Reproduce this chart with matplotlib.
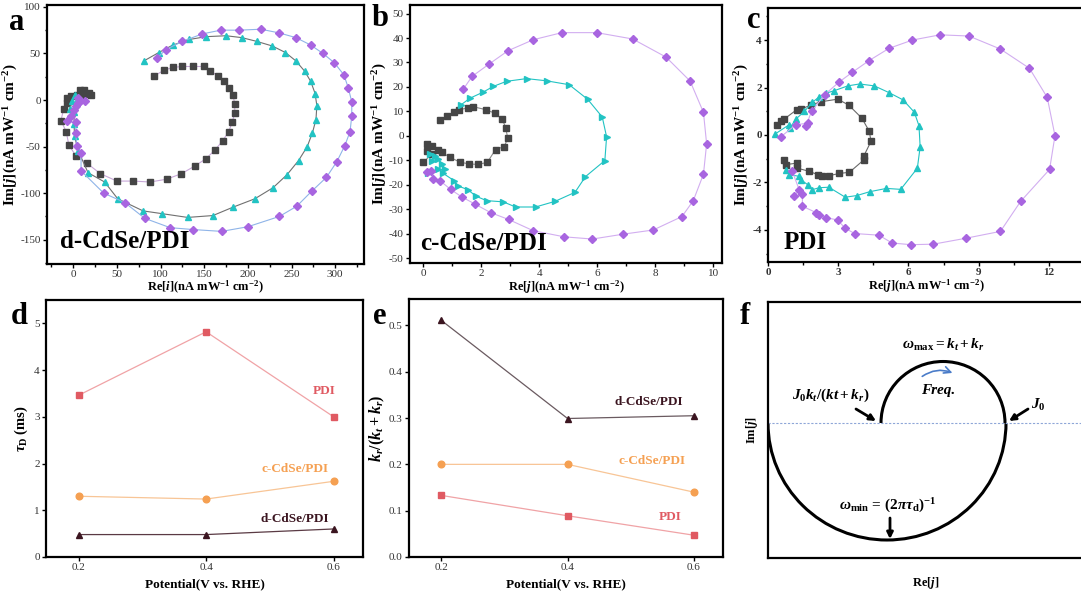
import numpy as np
import matplotlib
matplotlib.use('Agg')
import matplotlib.pyplot as plt
from matplotlib.ticker import MultipleLocator
from matplotlib.patches import Arc, FancyArrowPatch

plt.rcParams['font.family'] = 'Liberation Serif'
plt.rcParams['mathtext.fontset'] = 'custom'
plt.rcParams['mathtext.rm'] = 'Liberation Serif:bold'
plt.rcParams['mathtext.it'] = 'Liberation Serif:italic:bold'
plt.rcParams['mathtext.bf'] = 'Liberation Serif:bold'
plt.rcParams['axes.unicode_minus'] = False

# ---------------- data: panel a (d-CdSe/PDI IMPS) ----------------
a_sq_x = [93, 104, 114, 125, 137, 150, 157, 166, 173, 178, 183, 185, 185, 182, 178, 171, 162, 152,
          139, 124, 107, 88, 69, 50, 31, 16, 3, -5, -8, -14, -11, -7, -7, -2, 4, 8, 12, 18, 20, 14, 10]
a_sq_y = [26, 32, 35, 36, 36, 36, 31, 26, 20, 13, 5, -4, -14, -24, -34, -44, -54, -63,
          -71, -79, -85, -88, -87, -87, -79, -68, -60, -48, -34, -22, -10, -3, 2, 4, 5, 11, 11, 8, 5, 7, 4]
a_tr_x = [81, 98, 114, 133, 152, 175, 193, 210, 228, 243, 255, 265, 272, 277, 279, 278, 274, 268, 258,
          245, 229, 208, 183, 160, 131, 102, 80, 51, 36, 17, 6, 1.5, 1, 1, -4, -1, 1.5, 5, 3]
a_tr_y = [42, 51, 59, 65, 68, 69, 67, 63, 58, 51, 42, 31, 20, 7, -6, -21, -35, -50, -65,
          -80, -94, -106, -115, -124, -126, -122, -119, -106, -88, -78, -55, -39, -26, -13, -10, -1, 5, 2, -4]
a_di_x = [96, 106, 125, 148, 169, 190, 215, 236, 255, 272, 286, 299, 310, 315, 319, 319, 317, 311, 302,
          290, 273, 256, 236, 200, 170, 137, 111, 82, 59, 35, 9, 9, 4, 3, 3, -7, -3, 1, 3, 6, 14, 8, 5]
a_di_y = [45, 54, 63, 71, 75, 75, 76, 72, 67, 59, 50, 40, 27, 13, -2, -17, -34, -49, -66,
          -83, -98, -114, -125, -136, -141, -139, -137, -127, -110, -100, -76, -57, -49, -35, -24, -23, -17, -11, -6, -3, -1, -1, 2]

# ---------------- data: panel b (c-CdSe/PDI IMPS) ----------------
b_sq_x = [0.57, 0.83, 1.05, 1.23, 1.55, 1.72, 2.16, 2.47, 2.72, 2.84, 2.91, 2.79, 2.49, 2.21, 1.90,
          1.59, 1.27, 0.92, 0.63, 0.49, 0.29, 0.12, 0.12, 0.29, 0.0]
b_sq_y = [6.6, 8.2, 9.7, 10.7, 11.4, 11.9, 10.7, 9.2, 6.8, 3.4, -1.0, -4.4, -5.6, -10.8, -11.7,
          -11.5, -10.8, -8.8, -6.7, -5.6, -4.0, -3.3, -6.0, -7.5, -10.8]
b_tr_x = [1.30, 1.61, 2.05, 2.41, 2.87, 3.56, 4.25, 5.03, 5.67, 6.17, 6.32, 6.26, 5.59, 5.23, 4.54,
          3.87, 3.18, 2.76, 2.18, 1.82, 1.53, 1.18, 1.07, 0.69, 0.49, 0.17, 0.75, 0.63, 0.52, 0.29, 0.40, 0.23]
b_tr_y = [12.7, 15.4, 17.8, 20.2, 22.3, 23.4, 22.5, 20.9, 14.9, 7.7, -0.4, -10.1, -16.7, -23.1, -26.8,
          -29.1, -29.1, -27.0, -26.5, -24.7, -22.0, -20.4, -18.4, -15.4, -13.5, -15.4, -13.5, -11.5, -9.4, -10.1, -8.1, -7.4]
b_di_x = [1.38, 1.68, 2.25, 2.92, 3.79, 4.78, 5.98, 7.22, 8.37, 9.20, 9.66, 9.77, 9.66, 9.31, 8.92,
          7.93, 6.90, 5.83, 4.86, 3.79, 2.94, 2.32, 1.78, 1.33, 0.94, 0.57, 0.34, 0.26, 0.12]
b_di_y = [19.1, 24.3, 29.2, 34.8, 39.3, 42.2, 42.2, 39.6, 32.2, 22.4, 9.6, -3.3, -15.7, -26.5, -33.0,
          -38.5, -40.2, -42.2, -41.3, -38.8, -34.2, -31.4, -27.9, -25.0, -21.9, -18.3, -17.6, -14.2, -14.9]

# ---------------- data: panel c (PDI IMPS) ----------------
c_sq_x = [0.40, 0.55, 0.69, 1.22, 1.43, 1.83, 2.26, 2.98, 3.45, 4.01, 4.33, 4.40, 4.10, 4.08, 3.48,
          3.05, 2.62, 2.31, 2.12, 1.76, 1.26, 1.26, 0.76, 0.69]
c_sq_y = [0.43, 0.60, 0.67, 1.06, 1.10, 1.26, 1.40, 1.51, 1.26, 0.71, 0.15, -0.27, -0.87, -1.06, -1.57,
          -1.62, -1.71, -1.73, -1.67, -1.53, -1.40, -1.18, -1.25, -1.04]
c_tr_x = [0.30, 0.90, 0.93, 1.19, 1.55, 1.90, 2.19, 2.48, 2.84, 3.41, 3.91, 4.54, 5.16, 5.77, 6.25,
          6.45, 6.50, 6.38, 5.67, 5.06, 4.34, 3.80, 3.30, 2.60, 2.19, 1.90, 1.69, 1.40, 1.33, 0.90, 0.76]
c_tr_y = [0.04, 0.43, 0.29, 0.67, 0.99, 1.38, 1.61, 1.76, 1.87, 2.07, 2.15, 2.07, 1.79, 1.48, 0.96,
          0.39, -0.50, -1.40, -2.29, -2.25, -2.39, -2.55, -2.62, -2.20, -2.22, -2.30, -2.09, -1.88, -1.74, -1.67, -1.46]
c_di_x = [0.54, 1.19, 1.69, 1.62, 1.86, 2.42, 3.05, 3.60, 4.31, 5.17, 6.17, 7.35, 8.58, 9.93, 11.17,
          11.93, 12.26, 12.03, 10.79, 9.93, 8.45, 7.06, 6.10, 5.30, 4.74, 3.70, 3.30, 2.97, 2.48, 2.16,
          2.06, 1.47, 1.47, 1.12, 1.33, 1.04]
c_di_y = [-0.08, 0.43, 0.50, 0.38, 0.99, 1.70, 2.24, 2.64, 3.13, 3.65, 4.00, 4.22, 4.17, 3.62, 2.81,
          1.58, -0.03, -1.45, -2.80, -4.06, -4.35, -4.60, -4.62, -4.55, -4.22, -4.15, -3.93, -3.58, -3.48, -3.37,
          -3.27, -3.00, -2.50, -2.58, -2.30, -1.53]

# ---------------- data: panels d, e ----------------
potential = [0.2, 0.4, 0.6]
tau_pdi = [3.46, 4.82, 3.00]
tau_c = [1.30, 1.24, 1.62]
tau_d = [0.48, 0.48, 0.60]
ratio_d = [0.511, 0.299, 0.305]
ratio_c = [0.200, 0.200, 0.140]
ratio_pdi = [0.133, 0.089, 0.047]

W, H = 1081, 598
fig = plt.figure(figsize=(W / 100, H / 100), dpi=100)


def box(l, t, r, b):
    return [l / W, 1 - b / H, (r - l) / W, (b - t) / H]


def style(ax, bold_ticks=False):
    for s in ax.spines.values():
        s.set_linewidth(1.6)
    ax.tick_params(which='both', direction='out', top=False, right=False, width=1.0,
                   labelsize=8, pad=1.5, labelcolor='#333333')
    ax.tick_params(which='major', length=3)
    ax.tick_params(which='minor', length=1.8)
    if bold_ticks:
        for lab in ax.get_xticklabels() + ax.get_yticklabels():
            lab.set_fontweight('bold')


def nyq(ax, x, y, marker, mc, lc, ms=4.5):
    ax.plot(x, y, '-', color=lc, lw=0.8, marker=marker, ms=ms, mfc=mc, mec=mc, zorder=3)


BLK, CYN, PUR = '#454545', '#22c3c3', '#a865e0'
ylab = r'Im[$j$](nA mW$^{-1}$ cm$^{-2}$)'
xlab = r'Re[$j$](nA mW$^{-1}$ cm$^{-2}$)'
LFS = 9
YFS = 11

# panel a
ax = fig.add_axes(box(47, 5, 364, 264))
nyq(ax, a_sq_x, a_sq_y, 's', BLK, '#c8a8d8')
nyq(ax, a_tr_x, a_tr_y, '^', CYN, '#707070')
nyq(ax, a_di_x, a_di_y, 'D', PUR, '#8fb4e8', ms=4.2)
ax.set_xlim(-30, 333)
ax.set_ylim(-176, 102)
ax.xaxis.set_major_locator(MultipleLocator(50))
ax.xaxis.set_minor_locator(MultipleLocator(25))
ax.yaxis.set_major_locator(MultipleLocator(50))
ax.yaxis.set_minor_locator(MultipleLocator(25))
ax.set_xlabel(xlab.replace('$j$', '$i$'), fontsize=LFS, fontweight='bold', labelpad=0)
ax.set_ylabel(ylab, fontsize=YFS, fontweight='bold', labelpad=0)
ax.text(0.04, 0.085, 'd-CdSe/PDI', transform=ax.transAxes, fontsize=18, fontweight='bold', va='center')
style(ax)

# panel b
ax = fig.add_axes(box(410, 5, 722, 263))
nyq(ax, b_sq_x, b_sq_y, 's', BLK, '#8a8a8a')
nyq(ax, b_tr_x, b_tr_y, '>', CYN, CYN)
nyq(ax, b_di_x, b_di_y, 'D', PUR, '#d2aef0', ms=4.2)
ax.set_xlim(-0.46, 10.3)
ax.set_ylim(-52, 53.5)
ax.xaxis.set_major_locator(MultipleLocator(2))
ax.xaxis.set_minor_locator(MultipleLocator(1))
ax.yaxis.set_major_locator(MultipleLocator(10))
ax.set_xlabel(xlab, fontsize=LFS, fontweight='bold', labelpad=0)
ax.set_ylabel(ylab, fontsize=YFS, fontweight='bold', labelpad=0)
ax.text(0.032, 0.076, 'c-CdSe/PDI', transform=ax.transAxes, fontsize=18, fontweight='bold', va='center')
style(ax)

# panel c
ax = fig.add_axes(box(768, 8, 1084, 262))
nyq(ax, c_sq_x, c_sq_y, 's', BLK, '#6a6a6a')
nyq(ax, c_tr_x, c_tr_y, '^', CYN, CYN)
nyq(ax, c_di_x, c_di_y, 'D', PUR, '#d2aef0', ms=4.2)
ax.set_xlim(0, 13.5)
ax.set_ylim(-5.35, 5.35)
ax.xaxis.set_major_locator(MultipleLocator(3))
ax.xaxis.set_minor_locator(MultipleLocator(1.5))
ax.yaxis.set_major_locator(MultipleLocator(2))
ax.yaxis.set_minor_locator(MultipleLocator(1))
ax.set_xlabel(xlab, fontsize=LFS, fontweight='bold', labelpad=0)
ax.set_ylabel(ylab, fontsize=YFS, fontweight='bold', labelpad=1)
ax.text(0.048, 0.077, 'PDI', transform=ax.transAxes, fontsize=18, fontweight='bold', va='center')
style(ax, bold_ticks=True)

RED, ORG, DRK = '#e05a62', '#f5a052', '#3b1520'

# panel d
ax = fig.add_axes(box(46, 300, 363, 557))
ax.plot(potential, tau_pdi, '-s', color='#f0a3a6', mfc=RED, mec=RED, ms=4.5, lw=0.9)
ax.plot(potential, tau_c, '-o', color='#f8c596', mfc=ORG, mec=ORG, ms=4.8, lw=0.9)
ax.plot(potential, tau_d, '-^', color='#5a3a44', mfc=DRK, mec=DRK, ms=5, lw=0.9)
ax.set_xlim(0.149, 0.646)
ax.set_ylim(0, 5.5)
ax.xaxis.set_major_locator(MultipleLocator(0.2))
ax.yaxis.set_major_locator(MultipleLocator(1))
ax.set_xlabel('Potential(V vs. RHE)', fontsize=9.5, fontweight='bold', labelpad=4)
ax.set_ylabel(r'$\tau_{\rm D}$ (ms)', fontsize=10.5, fontweight='bold', labelpad=3)
ax.text(0.585, 3.55, 'PDI', color=RED, fontsize=9.5, fontweight='bold', ha='center', va='center')
ax.text(0.539, 1.89, 'c-CdSe/PDI', color=ORG, fontsize=9.5, fontweight='bold', ha='center', va='center')
ax.text(0.539, 0.82, 'd-CdSe/PDI', color=DRK, fontsize=9.5, fontweight='bold', ha='center', va='center')
style(ax)

# panel e
ax = fig.add_axes(box(409, 299, 723, 557))
ax.plot(potential, ratio_d, '-^', color='#6a5a60', mfc=DRK, mec=DRK, ms=5, lw=0.9)
ax.plot(potential, ratio_c, '-o', color='#f8c596', mfc=ORG, mec=ORG, ms=4.8, lw=0.9)
ax.plot(potential, ratio_pdi, '-s', color='#f0a3a6', mfc=RED, mec=RED, ms=4.5, lw=0.9)
ax.set_xlim(0.149, 0.646)
ax.set_ylim(0, 0.557)
ax.xaxis.set_major_locator(MultipleLocator(0.2))
ax.yaxis.set_major_locator(MultipleLocator(0.1))
ax.set_xlabel('Potential(V vs. RHE)', fontsize=9.5, fontweight='bold', labelpad=4)
ax.set_ylabel(r'$k_r/(k_t+k_r)$', fontsize=11.5, labelpad=1)
ax.text(0.529, 0.334, 'd-CdSe/PDI', color=DRK, fontsize=9.5, fontweight='bold', ha='center', va='center')
ax.text(0.534, 0.207, 'c-CdSe/PDI', color=ORG, fontsize=9.5, fontweight='bold', ha='center', va='center')
ax.text(0.563, 0.086, 'PDI', color=RED, fontsize=9.5, fontweight='bold', ha='center', va='center')
style(ax)

# panel f (schematic, axis units = pixels)
ax = fig.add_axes(box(768, 302, 1084, 558))
ax.set_xlim(0, 316)
ax.set_ylim(0, 256)
ax.set_xticks([])
ax.set_yticks([])
for s in ax.spines.values():
    s.set_linewidth(1.6)
ax.axhline(135, color='#8ea6d8', ls=(0, (2, 1.5)), lw=0.8)
ax.add_patch(Arc((175, 135), 124, 123, theta1=0, theta2=180, lw=2.2, color='k'))
ax.add_patch(Arc((119, 135), 238, 234, theta1=180, theta2=360, lw=2.2, color='k'))
ax.text(175, 213, r'$\omega_{\rm max} = k_t + k_r$', fontsize=11, ha='center', va='center')
ax.text(170, 168, 'Freq.', fontsize=11, fontstyle='italic', fontweight='bold', ha='center', va='center')
ax.add_patch(FancyArrowPatch((152, 180), (187, 184), connectionstyle='arc3,rad=-0.3',
                             arrowstyle='->', color='#4a7cc9', lw=1.2, mutation_scale=12))
ax.text(63, 163, r'$J_0k_t/(kt + k_r)$', fontsize=11, ha='center', va='center')
arr = dict(arrowstyle='-|>', color='k', lw=2, mutation_scale=9, shrinkA=0, shrinkB=0)
ax.annotate('', xy=(108, 137), xytext=(88, 149), arrowprops=arr)
ax.text(270, 153, r'$J_0$', fontsize=11, ha='center', va='center')
ax.annotate('', xy=(241, 137), xytext=(260, 149), arrowprops=arr)
ax.text(120, 52, r'$\omega_{\rm min}$ = $(2\pi\tau_{\rm d})^{-1}$', fontsize=11, ha='center', va='center')
ax.annotate('', xy=(122, 19), xytext=(122, 40), arrowprops=arr)
ax.set_xlabel(r'Re[$j$]', fontsize=LFS, fontweight='bold', labelpad=12)
ax.set_ylabel(r'Im[$j$]', fontsize=LFS, fontweight='bold', labelpad=6)

# panel letters
for lab, x, y in [('a', 17, 22), ('b', 380, 19), ('c', 754, 20),
                  ('d', 19, 316), ('e', 380, 317), ('f', 745, 316)]:
    fig.text(x / W, 1 - y / H, lab, fontsize=22, fontweight='bold', ha='center', va='center')

fig.savefig('out.png', dpi=100)
